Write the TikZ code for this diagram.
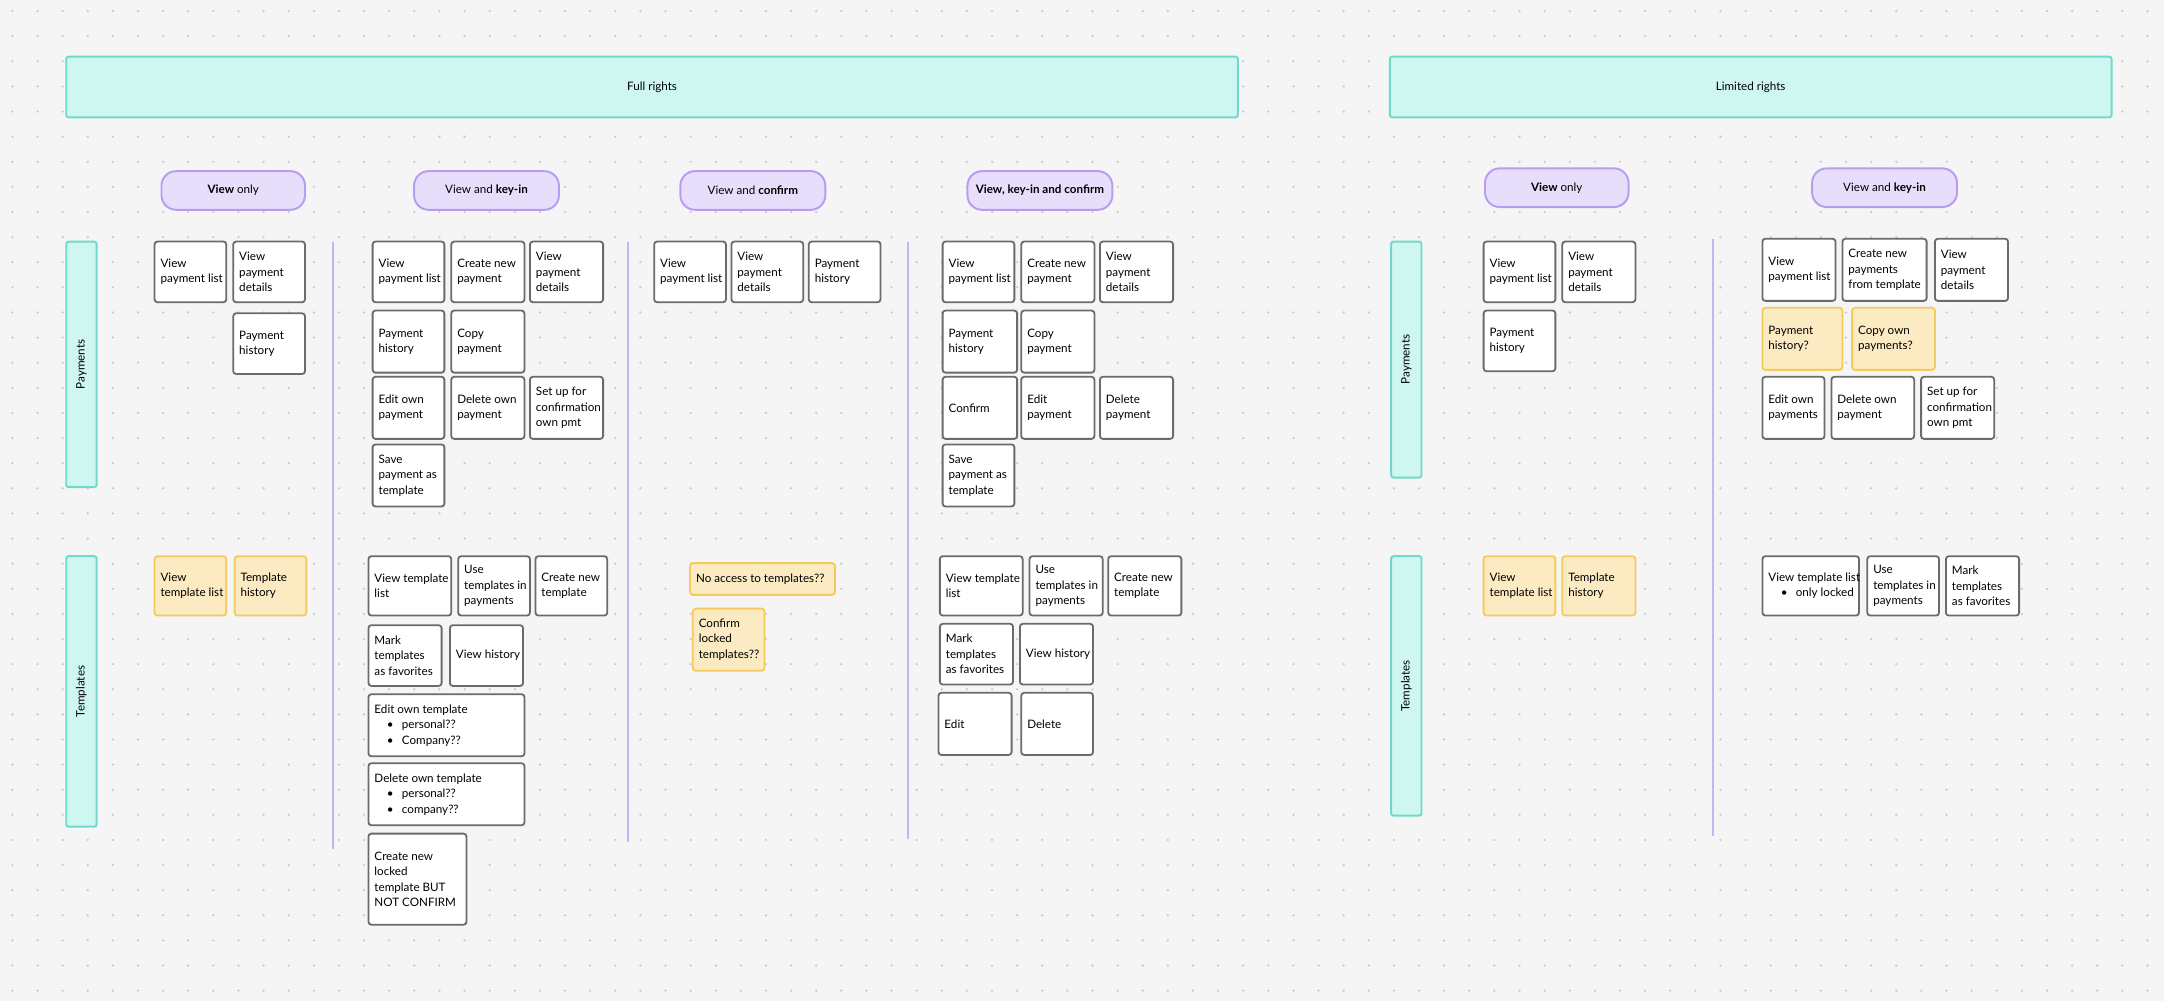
\documentclass[tikz,border=0pt]{standalone}
\usepackage{fontspec}
\setmainfont{Lato}
\usepackage{tikz}
\usetikzlibrary{positioning,calc}
\definecolor{bgcol}{HTML}{F5F5F5}
\definecolor{dotcol}{HTML}{C9C9C9}
\definecolor{cyanfill}{HTML}{CFF7F2}
\definecolor{cyanline}{HTML}{6FD9CB}
\definecolor{pillfill}{HTML}{E7DEFC}
\definecolor{pillline}{HTML}{B89CF2}
\definecolor{yelfill}{HTML}{FCEBC2}
\definecolor{yelline}{HTML}{F4CB5A}
\definecolor{cardline}{HTML}{6B6B6B}
\definecolor{sepline}{HTML}{C4B5F5}
\tikzset{
  card/.style={draw=cardline, line width=0.75pt, rounded corners=1.2pt},
  ycard/.style={draw=yelline, line width=0.75pt, rounded corners=1.2pt, fill=yelfill},
  cardtext/.style={anchor=west, inner sep=0pt, align=left, font=\fontsize{4.8}{6.4}\selectfont},
  band/.style={draw=cyanline, fill=cyanfill, line width=0.8pt, rounded corners=1pt},
  pill/.style={draw=pillline, fill=pillfill, line width=0.8pt, rounded corners=6pt},
  sep/.style={draw=sepline, line width=0.8pt},
  small/.style={font=\fontsize{4.8}{6.4}\selectfont, inner sep=0pt}
}
% card: [fill style] name x1 y1 x2 y2 text
\newcommand{\card}[7][card]{%
  \draw[#1, fill=white] (#3,#4) rectangle (#5,#6);
  \node[cardtext] (#2) at (#3+4,{(#4+#6)/2}) {#7};}
\newcommand{\ycard}[6]{%
  \draw[ycard] (#2,#3) rectangle (#4,#5);
  \node[cardtext] (#1) at (#2+4,{(#3+#5)/2}) {#6};}
\newcommand{\pilllabel}[6]{%
  \draw[pill] (#2,#3) rectangle (#4,#5);
  \node[small] (#1) at ({(#2+#4)/2},{(#3+#5)/2}) {#6};}
\newcommand{\band}[6]{%
  \draw[band] (#2,#3) rectangle (#4,#5);
  \node[small] (#1) at ({(#2+#4)/2},{(#3+#5)/2}) {#6};}
\newcommand{\sidebar}[6]{%
  \draw[band] (#2,#3) rectangle (#4,#5);
  \node[small, rotate=90] (#1) at ({(#2+#4)/2},{(#3+#5)/2}) {#6};}
\newcommand{\bl}{\hspace*{0.18cm}\textbullet\hspace{0.12cm}}

\begin{document}
\begin{tikzpicture}[x=0.02cm, y=-0.02cm]
    % Background and dot grid
    \fill[bgcol] (0,0) rectangle (1568,725);
    \useasboundingbox (0,0) rectangle (1568,725);
    \foreach \i in {0,...,86} {
        \foreach \j in {0,...,39} {
            \fill[dotcol] (9+\i*18.2, 8+\j*18.2) circle (0.9);
        }
    }

    % Rights headers
    \band{full}{48}{41}{897}{85}{Full rights}
    \band{limited}{1007}{41}{1530}{85}{Limited rights}

    % Row labels
    \sidebar{payL}{48}{175}{70}{353}{Payments}
    \sidebar{tmpL}{48}{403}{70}{599}{Templates}
    \sidebar{payR}{1008}{175}{1030}{346}{Payments}
    \sidebar{tmpR}{1008}{403}{1030}{591}{Templates}

    % Column headers
    \pilllabel{p1}{117}{124}{221}{152}{\textbf{View} only}
    \pilllabel{p2}{300}{124}{405}{152}{View and \textbf{key-in}}
    \pilllabel{p3}{493}{124}{598}{152}{View and \textbf{confirm}}
    \pilllabel{p4}{701}{124}{806}{152}{\textbf{View, key-in and confirm}}
    \pilllabel{p5}{1076}{122}{1180}{150}{\textbf{View} only}
    \pilllabel{p6}{1313}{122}{1418}{150}{View and \textbf{key-in}}

    % Separators
    \draw[sep] (241,175) -- (241,615);
    \draw[sep] (455,175) -- (455,610);
    \draw[sep] (658,175) -- (658,608);
    \draw[sep] (1241,173) -- (1241,606);

    % View only
    \card{a1}{112}{175}{164}{219}{View\\payment list}
    \card{a2}{169}{175}{221}{219}{View\\payment\\details}
    \card{a3}{169}{227}{221}{271}{Payment\\history}
    \ycard{a4}{112}{403}{164}{446}{View\\template list}
    \ycard{a5}{170}{403}{222}{446}{Template\\history}

    % View and key-in
    \card{b1}{270}{175}{322}{219}{View\\payment list}
    \card{b2}{327}{175}{380}{219}{Create new\\payment}
    \card{b3}{384}{175}{437}{219}{View\\payment\\details}
    \card{b4}{270}{225}{322}{270}{Payment\\history}
    \card{b5}{327}{225}{380}{270}{Copy\\payment}
    \card{b6}{270}{273}{322}{318}{Edit own\\payment}
    \card{b7}{327}{273}{380}{318}{Delete own\\payment}
    \card{b8}{384}{273}{437}{318}{Set up for\\confirmation\\own pmt}
    \card{b9}{270}{322}{322}{367}{Save\\payment as\\template}
    \card{b10}{267}{403}{327}{446}{View template\\list}
    \card{b11}{332}{403}{384}{446}{Use\\templates in\\payments}
    \card{b12}{388}{403}{440}{446}{Create new\\template}
    \card{b13}{267}{453}{320}{497}{Mark\\templates\\as favorites}
    \card{b14}{326}{453}{379}{497}{View history}
    \card{b15}{267}{503}{380}{548}{Edit own template\\\bl personal??\\\bl Company??}
    \card{b16}{267}{553}{380}{598}{Delete own template\\\bl personal??\\\bl company??}
    \card{b17}{267}{604}{338}{670}{Create new\\locked\\template BUT\\NOT CONFIRM}

    % View and confirm
    \card{c1}{474}{175}{526}{219}{View\\payment list}
    \card{c2}{530}{175}{582}{219}{View\\payment\\details}
    \card{c3}{586}{175}{638}{219}{Payment\\history}
    \ycard{c4}{500}{408}{605}{431}{No access to templates??}
    \ycard{c5}{502}{441}{554}{486}{Confirm\\locked\\templates??}

    % View, key-in and confirm
    \card{d1}{683}{175}{735}{219}{View\\payment list}
    \card{d2}{740}{175}{793}{219}{Create new\\payment}
    \card{d3}{797}{175}{850}{219}{View\\payment\\details}
    \card{d4}{683}{225}{737}{270}{Payment\\history}
    \card{d5}{740}{225}{793}{270}{Copy\\payment}
    \card{d6}{683}{273}{737}{318}{Confirm}
    \card{d7}{740}{273}{793}{318}{Edit\\payment}
    \card{d8}{797}{273}{850}{318}{Delete\\payment}
    \card{d9}{683}{322}{735}{367}{Save\\payment as\\template}
    \card{d10}{681}{403}{741}{446}{View template\\list}
    \card{d11}{746}{403}{799}{446}{Use\\templates in\\payments}
    \card{d12}{803}{403}{856}{446}{Create new\\template}
    \card{d13}{681}{452}{734}{496}{Mark\\templates\\as favorites}
    \card{d14}{739}{452}{792}{496}{View history}
    \card{d15}{680}{502}{733}{547}{Edit}
    \card{d16}{740}{502}{792}{547}{Delete}

    % Limited: view only
    \card{e1}{1075}{175}{1127}{219}{View\\payment list}
    \card{e2}{1132}{175}{1185}{219}{View\\payment\\details}
    \card{e3}{1075}{225}{1127}{269}{Payment\\history}
    \ycard{e4}{1075}{403}{1127}{446}{View\\template list}
    \ycard{e5}{1132}{403}{1185}{446}{Template\\history}

    % Limited: view and key-in
    \card{f1}{1277}{173}{1330}{218}{View\\payment list}
    \card{f2}{1335}{173}{1396}{218}{Create new\\payments\\from template}
    \card{f3}{1402}{173}{1455}{218}{View\\payment\\details}
    \ycard{f4}{1277}{223}{1335}{268}{Payment\\history?}
    \ycard{f5}{1342}{223}{1402}{268}{Copy own\\payments?}
    \card{f6}{1277}{273}{1322}{318}{Edit own\\payments}
    \card{f7}{1327}{273}{1387}{318}{Delete own\\payment}
    \card{f8}{1392}{273}{1445}{318}{Set up for\\confirmation\\own pmt}
    \card{f9}{1277}{403}{1347}{446}{View template list\\\bl only locked}
    \card{f10}{1353}{403}{1405}{446}{Use\\templates in\\payments}
    \card{f11}{1410}{403}{1463}{446}{Mark\\templates\\as favorites}
\end{tikzpicture}
\end{document}
